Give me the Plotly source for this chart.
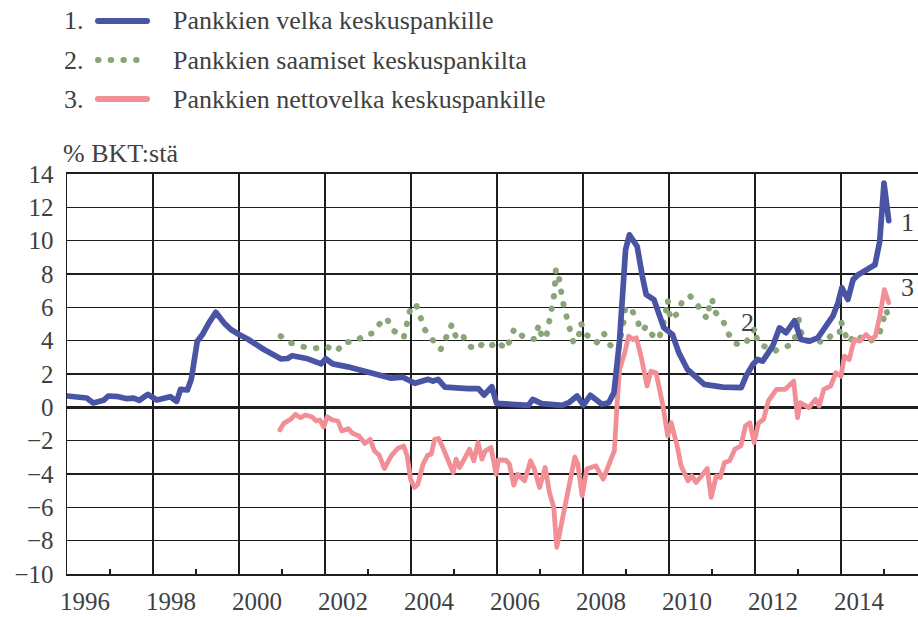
import plotly.graph_objects as go

# ---------------- data (decimal years, % of GDP) ----------------
years_velka = [1996.00, 1996.25, 1996.46, 1996.61, 1996.85, 1996.96, 1997.20, 1997.39, 1997.55, 1997.68,
               1997.88, 1998.09, 1998.25, 1998.40, 1998.55, 1998.64, 1998.80, 1998.89, 1999.03, 1999.15,
               1999.30, 1999.46, 1999.65, 1999.81, 2000.00, 2000.20, 2000.58, 2000.97, 2001.13, 2001.24,
               2001.60, 2001.91, 2002.02, 2002.18, 2002.53, 2003.07, 2003.54, 2003.81, 2004.09, 2004.40,
               2004.51, 2004.63, 2004.79, 2005.33, 2005.57, 2005.70, 2005.88, 2005.99, 2006.34, 2006.73,
               2006.83, 2007.04, 2007.51, 2007.67, 2007.86, 2008.01, 2008.17, 2008.44, 2008.60, 2008.72,
               2008.85, 2008.93, 2008.99, 2009.08, 2009.26, 2009.38, 2009.47, 2009.65, 2009.75, 2009.88,
               2010.08, 2010.23, 2010.43, 2010.62, 2010.82, 2011.25, 2011.68, 2011.79, 2011.95, 2012.06,
               2012.18, 2012.41, 2012.57, 2012.72, 2012.92, 2013.07, 2013.27, 2013.46, 2013.81, 2013.93,
               2014.02, 2014.16, 2014.28, 2014.40, 2014.63, 2014.79, 2014.90, 2015.00, 2015.11]
velka = [0.68, 0.62, 0.56, 0.26, 0.42, 0.68, 0.64, 0.52, 0.55, 0.42,
         0.78, 0.44, 0.50, 0.64, 0.36, 1.08, 1.04, 1.68, 3.97, 4.37,
         5.07, 5.70, 5.07, 4.67, 4.37, 4.10, 3.47, 2.91, 2.93, 3.10,
         2.91, 2.61, 2.91, 2.61, 2.43, 2.07, 1.75, 1.81, 1.44, 1.68,
         1.57, 1.68, 1.21, 1.12, 1.12, 0.74, 1.24, 0.24, 0.18, 0.12,
         0.48, 0.22, 0.12, 0.28, 0.68, 0.14, 0.72, 0.18, 0.28, 0.88,
         4.00, 7.50, 9.46, 10.35, 9.65, 7.86, 6.76, 6.46, 5.67, 4.77,
         4.37, 3.27, 2.27, 1.87, 1.38, 1.21, 1.18, 1.87, 2.57, 2.87,
         2.77, 3.67, 4.77, 4.47, 5.20, 4.07, 3.97, 4.17, 5.47, 6.27,
         7.17, 6.47, 7.66, 7.96, 8.26, 8.55, 9.95, 13.45, 11.20]

years_saamiset = [2000.97, 2001.20, 2001.43, 2001.72, 2001.90, 2002.01, 2002.28, 2002.43, 2002.70, 2002.94,
                  2003.09, 2003.29, 2003.43, 2003.58, 2003.83, 2003.91, 2003.97, 2004.11, 2004.22, 2004.32,
                  2004.51, 2004.69, 2004.82, 2004.95, 2005.04, 2005.18, 2005.31, 2005.53, 2005.70, 2005.89,
                  2006.01, 2006.20, 2006.33, 2006.40, 2006.58, 2006.75, 2006.89, 2006.97, 2007.04, 2007.14,
                  2007.20, 2007.27, 2007.32, 2007.35, 2007.37, 2007.43, 2007.47, 2007.53, 2007.61, 2007.69,
                  2007.78, 2007.90, 2007.95, 2008.08, 2008.31, 2008.48, 2008.62, 2008.82, 2008.90, 2008.94,
                  2008.98, 2009.10, 2009.24, 2009.37, 2009.47, 2009.60, 2009.76, 2009.90, 2009.97, 2010.03,
                  2010.17, 2010.30, 2010.48, 2010.63, 2010.77, 2010.89, 2010.95, 2011.00, 2011.06, 2011.26,
                  2011.37, 2011.53, 2011.74, 2011.90, 2012.00, 2012.06, 2012.21, 2012.44, 2012.68, 2012.91,
                  2013.01, 2013.04, 2013.15, 2013.38, 2013.61, 2013.77, 2013.96, 2014.00, 2014.08, 2014.19,
                  2014.31, 2014.46, 2014.66, 2014.90, 2015.05, 2015.13]
saamiset = [4.27, 3.87, 3.67, 3.51, 3.61, 3.67, 3.37, 3.91, 3.93, 4.37,
            4.43, 5.07, 5.37, 4.63, 4.17, 4.97, 5.76, 6.22, 5.50, 4.67,
            4.03, 3.47, 4.21, 4.97, 4.27, 4.47, 3.73, 3.47, 3.91, 3.73,
            3.97, 3.49, 4.16, 4.72, 4.30, 4.06, 4.12, 4.96, 4.26, 4.12,
            4.96, 5.75, 6.59, 7.44, 8.30, 7.98, 7.14, 6.35, 5.51, 4.72,
            3.86, 4.26, 5.06, 4.36, 3.86, 4.46, 3.76, 3.40, 4.27, 5.07,
            5.90, 6.03, 5.31, 4.57, 4.87, 4.37, 4.07, 5.31, 6.46, 5.27,
            5.57, 6.30, 6.70, 6.30, 5.67, 5.33, 6.27, 6.52, 5.76, 5.17,
            4.47, 3.83, 3.73, 4.27, 4.77, 3.87, 3.67, 3.37, 3.57, 3.87,
            5.47, 4.77, 3.97, 4.07, 3.87, 4.31, 4.37, 5.17, 4.47, 3.87,
            4.37, 4.17, 3.91, 4.47, 5.87, 5.07]

years_netto = [2000.95, 2001.04, 2001.20, 2001.31, 2001.43, 2001.55, 2001.70, 2001.80, 2001.88, 2001.97,
               2002.05, 2002.17, 2002.30, 2002.39, 2002.54, 2002.64, 2002.79, 2002.93, 2003.05, 2003.15,
               2003.26, 2003.38, 2003.54, 2003.69, 2003.83, 2003.91, 2003.99, 2004.08, 2004.16, 2004.28,
               2004.39, 2004.47, 2004.55, 2004.64, 2004.74, 2004.84, 2004.98, 2005.05, 2005.13, 2005.26,
               2005.36, 2005.46, 2005.56, 2005.65, 2005.73, 2005.86, 2005.98, 2006.03, 2006.21, 2006.29,
               2006.39, 2006.48, 2006.64, 2006.78, 2006.87, 2006.99, 2007.12, 2007.22, 2007.32, 2007.39,
               2007.49, 2007.61, 2007.71, 2007.81, 2007.88, 2007.98, 2008.09, 2008.30, 2008.47, 2008.58,
               2008.73, 2008.80, 2008.85, 2008.97, 2009.06, 2009.16, 2009.24, 2009.35, 2009.49, 2009.58,
               2009.70, 2009.86, 2009.97, 2010.05, 2010.19, 2010.28, 2010.44, 2010.53, 2010.63, 2010.76,
               2010.89, 2010.98, 2011.10, 2011.19, 2011.29, 2011.41, 2011.53, 2011.67, 2011.78, 2011.88,
               2011.98, 2012.08, 2012.20, 2012.31, 2012.50, 2012.70, 2012.90, 2012.99, 2013.05, 2013.25,
               2013.41, 2013.49, 2013.60, 2013.76, 2013.88, 2014.00, 2014.08, 2014.19, 2014.31, 2014.44,
               2014.58, 2014.70, 2014.80, 2014.90, 2015.01, 2015.11]
netto = [-1.36, -0.96, -0.72, -0.42, -0.62, -0.46, -0.58, -0.82, -0.76, -1.18,
         -0.56, -0.76, -0.82, -1.42, -1.28, -1.56, -1.72, -2.17, -1.92, -2.62,
         -2.87, -3.67, -2.91, -2.47, -2.32, -2.91, -4.31, -4.81, -4.61, -3.41,
         -2.87, -2.81, -1.92, -1.87, -2.41, -3.11, -3.91, -3.11, -3.61, -3.01,
         -2.51, -3.21, -2.11, -3.11, -2.61, -2.41, -4.01, -3.15, -3.17, -3.41,
         -4.67, -4.01, -4.41, -3.21, -3.71, -4.81, -3.61, -5.11, -6.00, -8.40,
         -7.10, -5.50, -4.51, -2.98, -3.40, -5.31, -3.70, -3.51, -4.31, -3.56,
         -2.60, 0.50, 2.27, 3.27, 4.27, 4.07, 4.17, 3.07, 1.28, 2.17,
         2.07, 0.08, -1.72, -0.92, -2.32, -3.51, -4.41, -4.11, -4.51, -4.11,
         -3.67, -5.40, -4.11, -4.21, -3.31, -3.21, -2.51, -2.32, -1.12, -0.92,
         -2.11, -0.95, -0.72, 0.38, 1.08, 1.08, 1.57, -0.62, 0.28, -0.02,
         0.48, 0.08, 1.08, 1.28, 2.07, 1.87, 3.07, 2.87, 4.07, 3.97,
         4.37, 4.07, 4.27, 5.47, 7.06, 6.27]

grid_years = list(range(1996, 2016, 2))
minor_years = list(range(1997, 2016, 2))
label_years = list(range(1996, 2016, 2))
y_ticks = list(range(-10, 15, 2))

series_names = ["Pankkien velka keskuspankille",
                "Pankkien saamiset keskuspankilta",
                "Pankkien nettovelka keskuspankille"]
series_numbers = ["1.", "2.", "3."]
end_labels = ["1", "2", "3"]

# ---------------- style ----------------
BLUE = "#4a54a4"
GREEN = "#8aa678"
PINK = "#f28f96"
GRID = "#1e1e1e"
TEXT = "#404040"
FONT = "Liberation Serif"
FS_TICK = 25
FS_LEG = 26

W_FIG, H_FIG = 918, 617
L, T = 67, 174
PW, PH = 851, 400


def px(x):
    return (x - L) / PW


def py(y):
    return (T + PH - y) / PH


fig = go.Figure()
fig.add_trace(go.Scatter(x=years_saamiset, y=saamiset, mode="lines",
                         line=dict(color=GREEN, width=6, dash="0.5px,12.2px"),
                         hoverinfo="skip"))
fig.add_trace(go.Scatter(x=years_netto, y=netto, mode="lines",
                         line=dict(color=PINK, width=4.8), hoverinfo="skip"))
fig.add_trace(go.Scatter(x=years_velka, y=velka, mode="lines",
                         line=dict(color=BLUE, width=5.7), hoverinfo="skip"))
# empty trace so the label axis exists
fig.add_trace(go.Scatter(x=[], y=[], xaxis="x2", yaxis="y", hoverinfo="skip"))

x_end = 1996 + PW / 43.0

fig.update_layout(
    width=W_FIG, height=H_FIG,
    margin=dict(l=L, r=0, t=T, b=H_FIG - T - PH, autoexpand=False),
    plot_bgcolor="white", paper_bgcolor="white",
    showlegend=False,
    font=dict(family=FONT, size=FS_TICK, color=TEXT),
    xaxis=dict(range=[1996, x_end], tickvals=grid_years, showticklabels=False, ticks="",
               showgrid=True, gridcolor=GRID, gridwidth=1.3,
               showline=True, linecolor=GRID, linewidth=2, mirror=True, zeroline=False,
               minor=dict(tickvals=minor_years, ticks="inside", ticklen=5,
                          tickcolor=GRID, tickwidth=1.3, showgrid=False)),
    xaxis2=dict(range=[1996, x_end], overlaying="x", anchor="y", side="bottom",
                tickvals=[y + 0.42 for y in label_years], ticktext=[str(y) for y in label_years],
                showgrid=False, ticks="", showline=False, zeroline=False,
                ticklabelstandoff=10, tickfont=dict(family=FONT, size=FS_TICK, color=TEXT)),
    yaxis=dict(range=[-10, 14], tickvals=y_ticks, ticks="", showgrid=True, gridcolor=GRID,
               gridwidth=1.3, zeroline=True, zerolinecolor=GRID, zerolinewidth=2.5,
               showline=True, linecolor=GRID, linewidth=1.5, ticklabelstandoff=7,
               tickfont=dict(family=FONT, size=FS_TICK, color=TEXT)),
)

annotations = []
shapes = []
legend_rows = [21, 60, 99]
legend_styles = [dict(color=BLUE, width=6), dict(color=GREEN, width=6, dash="0.5px,12.2px"),
                 dict(color=PINK, width=6)]
legend_x1 = [147, 138, 147]
for i in range(3):
    yy = py(legend_rows[i])
    annotations.append(dict(x=px(62), y=yy, xref="paper", yref="paper", text=series_numbers[i],
                            showarrow=False, xanchor="left", yanchor="middle",
                            font=dict(family=FONT, size=FS_LEG, color=TEXT)))
    annotations.append(dict(x=px(171), y=yy, xref="paper", yref="paper", text=series_names[i],
                            showarrow=False, xanchor="left", yanchor="middle",
                            font=dict(family=FONT, size=FS_LEG, color=TEXT)))
    shapes.append(dict(type="line", xref="paper", yref="paper", x0=px(98), x1=px(legend_x1[i]),
                       y0=yy, y1=yy, line=legend_styles[i]))

annotations.append(dict(x=px(61), y=py(153), xref="paper", yref="paper", text="% BKT:stä",
                        showarrow=False, xanchor="left", yanchor="middle",
                        font=dict(family=FONT, size=FS_LEG, color=TEXT)))

# end labels
end_pos = [(2015.35, 11.1), (2011.62, 5.1), (2015.35, 7.2)]
for lab, (ex, ey) in zip(end_labels, end_pos):
    annotations.append(dict(x=ex, y=ey, xref="x", yref="y", text=lab, showarrow=False,
                            xanchor="left", yanchor="middle",
                            font=dict(family=FONT, size=FS_LEG, color=TEXT)))

fig.update_layout(annotations=annotations, shapes=shapes)

post = """
document.documentElement.style.margin = '0';
document.body.style.margin = '0';
document.body.style.overflow = 'hidden';
var gd = document.getElementById('{plot_id}');
function rc(){
  gd.querySelectorAll('path.js-line, .shapelayer path').forEach(function(p){
    p.style.strokeLinecap = 'round';
    p.style.strokeLinejoin = 'round';
  });
}
rc();
gd.on('plotly_afterplot', rc);
"""

fig.write_html("out.html", post_script=post, config={"displayModeBar": False, "staticPlot": True})
